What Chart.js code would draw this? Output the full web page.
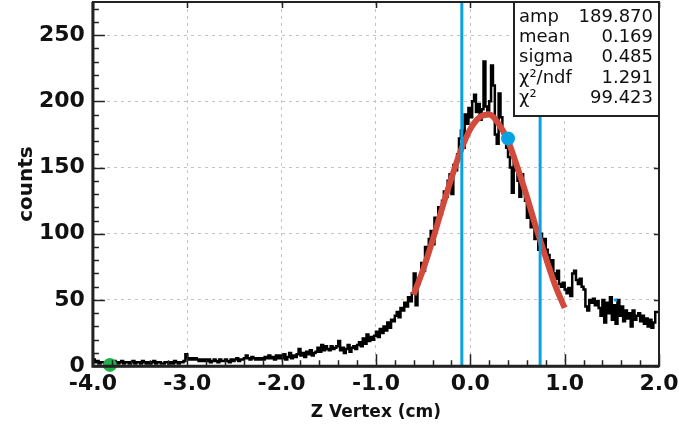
<!DOCTYPE html>
<html>
<head>
<meta charset="utf-8">
<script src="https://cdn.jsdelivr.net/npm/chart.js@4"></script>
<style>
  html, body { margin: 0; padding: 0; background: #fff; }
  #zvtx { display: block; }
</style>
</head>
<body>
<canvas id="zvtx" width="679" height="427"></canvas>
<script>
// histogram range and bin width (cm)
const zMin = -4.0;
const zMax = 2.0;
const binWidth = 0.02;

// counts per bin, 10 bins (0.2 cm) per row, from -4.0 up to 2.0
const counts = [
    4, 5, 3, 4, 2, 3, 3, 2, 3, 2,
    3, 2, 4, 3, 2, 3, 4, 2, 3, 3,
    2, 3, 4, 2, 3, 3, 2, 4, 3, 2,
    3, 2, 3, 4, 2, 3, 3, 2, 2, 3,
    3, 2, 3, 2, 4, 3, 2, 3, 3, 4,
    9, 6, 5, 6, 5, 6, 5, 4, 5, 4,
    5, 4, 5, 3, 4, 5, 4, 3, 5, 4,
    4, 5, 4, 3, 5, 4, 5, 6, 4, 5,
    5, 6, 8, 6, 5, 7, 6, 5, 6, 5,
    6, 5, 7, 6, 8, 6, 7, 5, 8, 6,
    8, 6, 9, 5, 7, 10, 6, 8, 7, 9,
    13, 8, 10, 7, 11, 9, 12, 8, 10, 11,
    14, 11, 16, 12, 15, 13, 12, 15, 13, 14,
    15, 19, 12, 14, 10, 13, 16, 11, 14, 15,
    13, 16, 18, 15, 21, 17, 24, 19, 22, 20,
    23, 26, 22, 28, 25, 30, 27, 33, 29, 35,
    34, 38, 41, 37, 44, 42, 48, 45, 52, 49,
    55, 70, 46, 62, 68, 78, 72, 90, 82, 96,
    102, 92, 112, 108, 120, 115, 125, 132, 128, 140,
    145, 130, 152, 148, 160, 172, 178, 165, 190, 183,
    195, 188, 200, 205, 192, 198, 186, 194, 230, 196,
    193, 200, 227, 212, 175, 168, 206, 188, 176, 172,
    165, 158, 150, 131, 155, 148, 140, 128, 145, 133,
    125, 112, 118, 105, 110, 96, 102, 88, 100, 92,
    96, 88, 84, 76, 80, 70, 66, 72, 62, 60,
    63, 58, 55, 59, 53, 70, 72, 65, 62, 66,
    60, 58, 45, 42, 50, 48, 51, 46, 49, 44,
    38, 50, 33, 48, 40, 52, 35, 46, 32, 50,
    38, 45, 34, 42, 36, 40, 30, 42, 35, 38,
    40, 34, 38, 32, 36, 30, 35, 29, 33, 41
];

// gaussian fit curve
const fitX = [-0.6, -0.5, -0.4, -0.3, -0.2, -0.1, 0.0, 0.1, 0.2, 0.3, 0.4, 0.5, 0.6, 0.7, 0.8, 0.9, 1.0];
const fitY = [54, 73, 95, 119, 142, 163, 179, 188, 190, 183, 170, 150, 128, 104, 82, 61, 44];

// vertical cut lines and markers
const cutLines = [-0.09, 0.74];
const bluePoint = { x: 0.40, y: 172 };
const greenPoint = { x: -3.82, y: 1 };
const smallMark = { x: 1.54, y: 50 };

// axes
const yMax = 275;
const yTickStep = 50;
const xTickStep = 1;

// stats box
const statLabels = ['amp', 'mean', 'sigma', 'χ²/ndf', 'χ²'];
const statValues = ['189.870', '0.169', '0.485', '1.291', '99.423'];

const FONT = '"DejaVu Sans", Verdana, sans-serif';

// step outline: left edge of every bin, plus closing point at the right edge
const histPoints = counts.map((c, i) => ({ x: zMin + i * binWidth, y: c }));
histPoints.push({ x: zMin + counts.length * binWidth, y: counts[counts.length - 1] });

const fitPoints = fitX.map((x, i) => ({ x: x, y: fitY[i] }));

const cutDatasets = cutLines.map(x => ({
    data: [{ x: x, y: 0 }, { x: x, y: yMax }],
    borderColor: '#08a2e2',
    borderWidth: 3,
    pointRadius: 0,
    order: 3
}));

const framePlugin = {
    id: 'frame',
    afterDatasetsDraw(chart) {
        const { ctx, chartArea: a, scales: { x, y } } = chart;
        ctx.save();

        // inward tick marks
        ctx.strokeStyle = '#222';
        ctx.lineWidth = 1.5;
        ctx.beginPath();
        for (let v = 0; v < yMax; v += 10) {
            const py = Math.round(y.getPixelForValue(v)) + 0.5;
            const len = v % yTickStep === 0 ? 12 : 6;
            ctx.moveTo(a.left, py);
            ctx.lineTo(a.left + len, py);
            if (v % yTickStep === 0) {
                ctx.moveTo(a.right, py);
                ctx.lineTo(a.right - 5, py);
            }
        }
        for (let v = zMin; v <= zMax + 1e-6; v += 0.2) {
            const px = Math.round(x.getPixelForValue(v)) + 0.5;
            const major = Math.abs(v - Math.round(v)) < 1e-6;
            ctx.moveTo(px, a.bottom);
            ctx.lineTo(px, a.bottom - (major ? 12 : 6));
            if (major) {
                ctx.moveTo(px, a.top);
                ctx.lineTo(px, a.top + 6);
            }
        }
        ctx.stroke();

        // frame
        ctx.strokeStyle = '#222';
        ctx.lineWidth = 2;
        ctx.strokeRect(a.left, a.top, a.right - a.left, a.bottom - a.top);
        ctx.lineWidth = 3;
        ctx.beginPath();
        ctx.moveTo(a.left, a.top);
        ctx.lineTo(a.left, a.bottom);
        ctx.lineTo(a.right, a.bottom);
        ctx.stroke();

        // stats box
        const bw = 145, bh = 114;
        const bx = a.right - bw, by = a.top;
        ctx.fillStyle = '#fff';
        ctx.fillRect(bx, by, bw, bh);
        ctx.lineWidth = 2;
        ctx.strokeRect(bx, by, bw, bh);
        ctx.fillStyle = '#111';
        ctx.font = '18px ' + FONT;
        ctx.textBaseline = 'middle';
        statLabels.forEach((lab, i) => {
            const ty = by + 15 + i * 20.3;
            ctx.textAlign = 'left';
            ctx.fillText(lab, bx + 5, ty);
            ctx.textAlign = 'right';
            ctx.fillText(statValues[i], bx + bw - 6, ty);
        });
        ctx.restore();
    }
};

new Chart(document.getElementById('zvtx'), {
    type: 'line',
    data: {
        datasets: [{
            data: histPoints,
            stepped: 'after',
            borderColor: '#000',
            borderWidth: 2.5,
            pointRadius: 0,
            order: 5
        }, {
            data: fitPoints,
            borderColor: '#d24a3b',
            borderWidth: 6,
            tension: 0.4,
            cubicInterpolationMode: 'monotone',
            pointRadius: 0,
            order: 4
        },
        ...cutDatasets,
        {
            data: [bluePoint],
            showLine: false,
            pointRadius: 7,
            pointBackgroundColor: '#08a2e2',
            pointBorderWidth: 0,
            order: 1
        }, {
            data: [greenPoint],
            showLine: false,
            pointRadius: 7,
            pointBackgroundColor: '#22b04b',
            pointBorderWidth: 0,
            clip: false,
            order: 0
        }, {
            data: [smallMark],
            showLine: false,
            pointStyle: 'rect',
            pointRadius: 2,
            pointBackgroundColor: '#08a2e2',
            pointBorderWidth: 0,
            order: 1
        }]
    },
    options: {
        responsive: false,
        animation: false,
        layout: {
            autoPadding: false,
            padding: { left: 5, right: 20, top: 2, bottom: 0 }
        },
        plugins: {
            legend: { display: false },
            tooltip: { enabled: false }
        },
        scales: {
            x: {
                type: 'linear',
                min: zMin,
                max: zMax,
                afterBuildTicks: scale => {
                    scale.ticks = scale.ticks.filter(t => Math.abs(t.value - Math.round(t.value)) < 1e-6);
                },
                afterFit: scale => {
                    scale.paddingLeft = 0;
                    scale.paddingRight = 0;
                },
                ticks: {
                    stepSize: xTickStep,
                    callback: v => v.toFixed(1),
                    color: '#111',
                    font: { family: FONT, size: 22, weight: 'bold' },
                    padding: 5,
                    maxRotation: 0
                },
                grid: {
                    color: '#c4c4c4',
                    lineWidth: 1,
                    drawTicks: false
                },
                border: { display: false, dash: [3, 4] },
                title: {
                    display: true,
                    text: 'Z Vertex (cm)',
                    color: '#111',
                    font: { family: FONT, size: 17, weight: 'bold' },
                    padding: { top: 0, bottom: 4 }
                }
            },
            y: {
                min: 0,
                max: yMax,
                afterBuildTicks: scale => {
                    scale.ticks = scale.ticks.filter(t => t.value % yTickStep === 0);
                },
                afterFit: scale => {
                    scale.paddingTop = 0;
                    scale.paddingBottom = 0;
                },
                ticks: {
                    stepSize: yTickStep,
                    color: '#111',
                    font: { family: FONT, size: 22, weight: 'bold' },
                    padding: 8
                },
                grid: {
                    color: '#c4c4c4',
                    lineWidth: 1,
                    drawTicks: false,
                    tickLength: 0
                },
                border: { display: false, dash: [3, 4] },
                title: {
                    display: true,
                    text: 'counts',
                    color: '#111',
                    font: { family: FONT, size: 20, weight: 'bold' },
                    padding: { top: 10, bottom: -8 }
                }
            }
        }
    },
    plugins: [framePlugin]
});
</script>
</body>
</html>
